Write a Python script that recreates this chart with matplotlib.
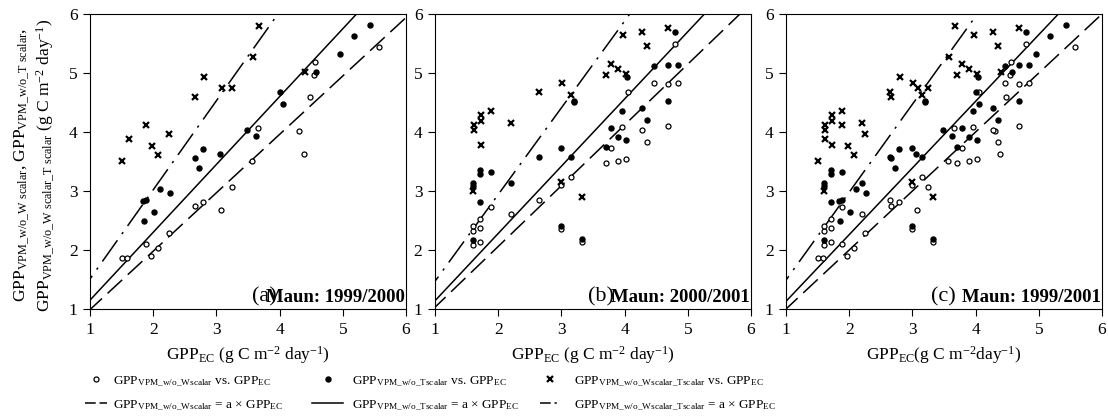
import matplotlib
matplotlib.use('Agg')
import matplotlib.pyplot as plt
from matplotlib.lines import Line2D
import numpy as np

plt.rcParams['font.family'] = ['Liberation Serif', 'DejaVu Serif']
plt.rcParams['mathtext.fontset'] = 'custom'
plt.rcParams['mathtext.rm'] = 'Liberation Serif'
plt.rcParams['mathtext.it'] = 'Liberation Serif'

# ---- panel (a): Maun 1999/2000 ----
a_wt_x = [1.51, 1.61, 1.89, 1.98, 2.07, 2.25, 2.66, 2.80, 3.09, 3.24, 3.58, 3.67, 4.40]
a_wt_y = [3.50, 3.88, 4.12, 3.77, 3.61, 3.96, 4.59, 4.94, 4.75, 4.75, 5.27, 5.80, 5.02]
a_t_x = [1.86, 1.84, 1.89, 2.02, 2.11, 2.26, 2.66, 2.73, 2.79, 3.05, 3.49, 3.62, 4.01, 4.06,
         4.58, 4.95, 5.17, 5.43]
a_t_y = [2.49, 2.83, 2.85, 2.64, 3.04, 2.97, 3.56, 3.39, 3.71, 3.62, 4.04, 3.94, 4.68, 4.47,
         5.01, 5.32, 5.62, 5.81]
a_w_x = [1.51, 1.59, 1.88, 1.97, 2.07, 2.25, 2.66, 2.79, 3.08, 3.24, 3.57, 3.66, 4.31, 4.39,
         4.48, 4.55, 4.56, 5.58]
a_w_y = [1.87, 1.86, 2.11, 1.90, 2.03, 2.28, 2.75, 2.81, 2.67, 3.06, 3.50, 4.07, 4.02, 3.63,
         4.59, 4.96, 5.18, 5.44]

# ---- panel (b): Maun 2000/2001 ----
b_wt_x = [1.60, 1.61, 1.61, 1.72, 1.72, 1.72, 1.89, 2.21, 2.65, 3.01, 3.15, 3.00, 3.33, 3.70,
          3.78, 3.89, 3.97, 4.03, 4.27, 4.35, 4.68]
b_wt_y = [3.00, 4.12, 4.04, 4.29, 4.18, 3.78, 4.36, 4.16, 4.68, 4.83, 4.63, 3.15, 2.90, 4.96,
          5.15, 5.07, 5.64, 4.98, 5.69, 5.45, 5.76]
b_t_x = [1.60, 1.60, 1.71, 1.71, 1.71, 1.60, 1.88, 2.20, 2.65, 3.00, 3.00, 3.15, 3.20, 3.20,
         3.32, 3.70, 3.78, 3.89, 3.96, 4.03, 4.04, 4.27, 4.35, 4.47, 4.68, 4.68, 4.80, 4.85]
b_t_y = [3.13, 3.09, 3.36, 3.29, 2.81, 2.17, 3.32, 3.14, 3.58, 3.73, 2.40, 3.57, 4.52, 4.50,
         2.18, 3.74, 4.06, 3.91, 4.35, 3.86, 4.93, 4.40, 4.21, 5.12, 5.14, 4.52, 5.70, 5.14]
b_w_x = [1.60, 1.60, 1.60, 1.71, 1.71, 1.71, 1.88, 2.20, 2.65, 3.00, 3.00, 3.15, 3.32, 3.70,
         3.78, 3.89, 3.96, 4.03, 4.05, 4.27, 4.35, 4.47, 4.68, 4.68, 4.80, 4.85]
b_w_y = [2.08, 2.33, 2.40, 2.14, 2.38, 2.53, 2.73, 2.61, 2.85, 2.36, 3.11, 3.24, 2.13, 3.48,
         3.73, 3.50, 4.09, 3.54, 4.68, 4.03, 3.83, 4.83, 4.81, 4.11, 5.49, 4.83]

# regression slopes (GPP = a x GPP_EC) per panel: w/o W, w/o T, w/o W&T
slopes_a = [0.99, 1.15, 1.51]
slopes_b = [1.03, 1.14, 1.47]
slopes_c = [1.00, 1.13, 1.49]

panel_tags = ['(a)', '(b)', '(c)']
panel_sites = ['Maun: 1999/2000', 'Maun: 2000/2001', 'Maun: 1999/2001']

panels = [
    (a_w_x, a_w_y, a_t_x, a_t_y, a_wt_x, a_wt_y, slopes_a),
    (b_w_x, b_w_y, b_t_x, b_t_y, b_wt_x, b_wt_y, slopes_b),
    # panel (c) pools both years
    (a_w_x + b_w_x, a_w_y + b_w_y, a_t_x + b_t_x, a_t_y + b_t_y,
     a_wt_x + b_wt_x, a_wt_y + b_wt_y, slopes_c),
]

fig = plt.figure(figsize=(11.08, 4.19), dpi=100)
W, H = 1108.0, 419.0
lefts = [90, 435, 786]
tag_x = [3.57, 3.42, 3.30]
dash = (0, (13, 5))
dashdot = (0, (17, 5, 1.5, 5))
xlabels = [r'GPP$_{\mathrm{EC}}$ (g C m$^{\mathrm{-2}}$ day$^{\mathrm{-1}}$)',
           r'GPP$_{\mathrm{EC}}$ (g C m$^{\mathrm{-2}}$ day$^{\mathrm{-1}}$)',
           r'GPP$_{\mathrm{EC}}$(g C m$^{\mathrm{-2}}$day$^{\mathrm{-1}}$)']

for i, (wx, wy, tx, ty, wtx, wty, sl) in enumerate(panels):
    ax = fig.add_axes([lefts[i] / W, 1 - 309 / H, 316 / W, 295 / H])
    xx = np.array([0, 7])
    ax.plot(xx, sl[0] * xx, color='black', lw=1.1, linestyle=dash)
    ax.plot(xx, sl[1] * xx, color='black', lw=1.1, linestyle='-')
    ax.plot(xx, sl[2] * xx, color='black', lw=1.1, linestyle=dashdot)
    ax.plot(wx, wy, 'o', mfc='white', mec='black', ms=3.6, mew=0.9, ls='none')
    ax.plot(tx, ty, 'o', mfc='black', mec='black', ms=3.6, ls='none')
    ax.plot(wtx, wty, 'x', color='black', ms=4, mew=1.6, ls='none')
    ax.set_xlim(1, 6)
    ax.set_ylim(1, 6)
    ax.set_xticks([1, 2, 3, 4, 5, 6])
    ax.set_yticks([1, 2, 3, 4, 5, 6])
    ax.tick_params(direction='out', length=5, width=0.8, labelsize=12.5, pad=4)
    for s in ax.spines.values():
        s.set_linewidth(0.8)
    ax.set_xlabel(xlabels[i], fontsize=12.5, labelpad=5)
    ax.text(tag_x[i], 1.12, panel_tags[i], fontsize=16, va='baseline', ha='left')
    ax.text(5.98, 1.12, panel_sites[i], fontsize=13.5, fontweight='bold',
            va='baseline', ha='right')

fig.text(22 / W, 1 - 165 / H,
         r'GPP$_{\mathrm{VPM\_w/o\_W\ scalar}}$, GPP$_{\mathrm{VPM\_w/o\_T\ scalar}}$,',
         rotation=90, fontsize=12.5, ha='center', va='center')
fig.text(46 / W, 1 - 165 / H,
         r'GPP$_{\mathrm{VPM\_w/o\_W\ scalar\_T\ scalar}}$ (g C m$^{\mathrm{-2}}$ day$^{\mathrm{-1}}$)',
         rotation=90, fontsize=12.5, ha='center', va='center')

# legend: three columns, each its own two-row legend
leg_cols = [
    ([Line2D([], [], marker='o', mfc='white', mec='black', ms=3.6, mew=0.9, ls='none'),
      Line2D([], [], color='black', lw=1.1, linestyle=(0, (7, 2.5)))],
     [r'GPP$_{\mathrm{VPM\_w/o\_Wscalar}}$ vs. GPP$_{\mathrm{EC}}$',
      r'GPP$_{\mathrm{VPM\_w/o\_Wscalar}}$ = a $\times$ GPP$_{\mathrm{EC}}$'],
     85, 1.65, 0.45),
    ([Line2D([], [], marker='o', mfc='black', mec='black', ms=3.6, ls='none'),
      Line2D([], [], color='black', lw=1.1, linestyle='-')],
     [r'GPP$_{\mathrm{VPM\_w/o\_Tscalar}}$ vs. GPP$_{\mathrm{EC}}$',
      r'GPP$_{\mathrm{VPM\_w/o\_Tscalar}}$ = a $\times$ GPP$_{\mathrm{EC}}$'],
     312, 2.35, 0.7),
    ([Line2D([], [], marker='x', color='black', ms=4, mew=1.6, ls='none'),
      Line2D([], [], color='black', lw=1.1, linestyle=(0, (7, 2.5, 1.5, 2.5)))],
     [r'GPP$_{\mathrm{VPM\_w/o\_Wscalar\_Tscalar}}$ vs. GPP$_{\mathrm{EC}}$',
      r'GPP$_{\mathrm{VPM\_w/o\_Wscalar\_Tscalar}}$ = a $\times$ GPP$_{\mathrm{EC}}$'],
     540, 1.55, 1.0),
]
for hs, ls, x0, hl, pad in leg_cols:
    fig.legend(hs, ls, frameon=False, fontsize=9.5, loc='center left',
               bbox_to_anchor=(x0 / W, 1 - 393.5 / H), borderaxespad=0, borderpad=0,
               handlelength=hl, handletextpad=pad, labelspacing=0.78)

fig.savefig('out.png', dpi=100)
